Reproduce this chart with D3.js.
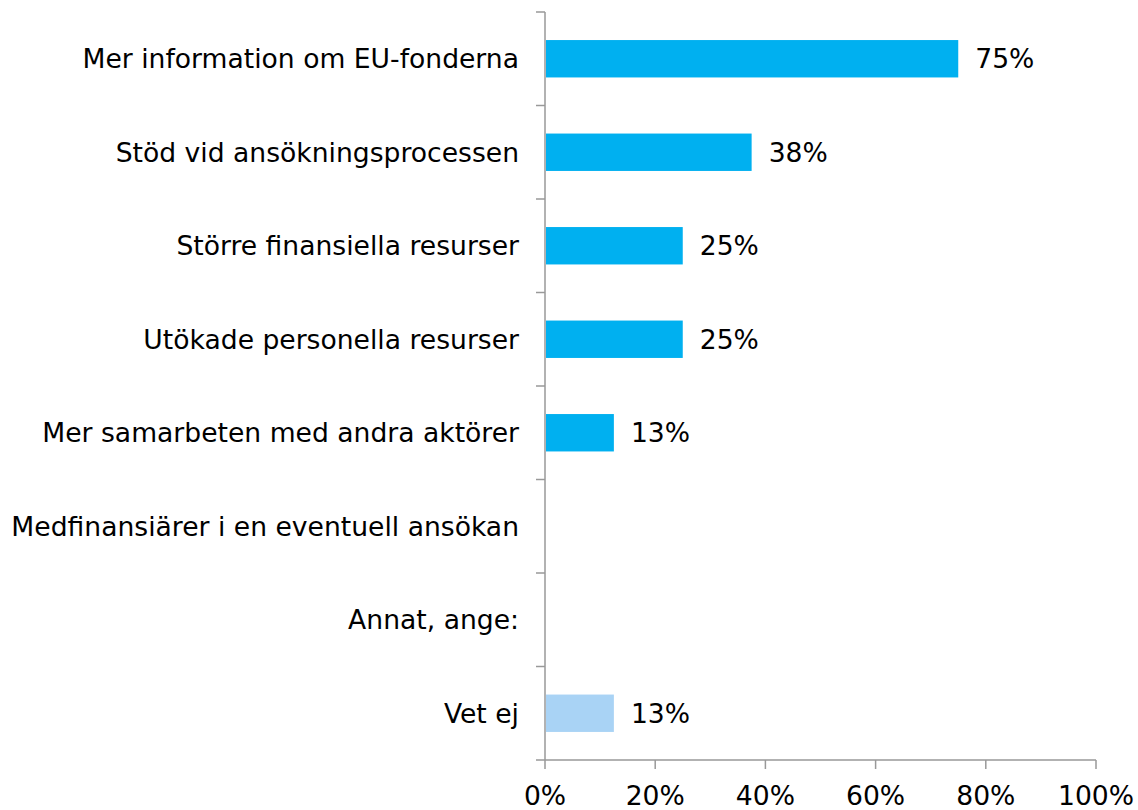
<!DOCTYPE html>
<html>
<head>
<meta charset="utf-8">
<script src="https://cdn.jsdelivr.net/npm/d3@7"></script>
<style>
    body { margin: 0; background: #fff; }
    text { font-family: Verdana, "DejaVu Sans", sans-serif; fill: #000; }
</style>
</head>
<body>
<svg id="chart" width="1138" height="810"></svg>
<script>
const categories = [
    'Mer information om EU-fonderna',
    'Stöd vid ansökningsprocessen',
    'Större finansiella resurser',
    'Utökade personella resurser',
    'Mer samarbeten med andra aktörer',
    'Medfinansiärer i en eventuell ansökan',
    'Annat, ange:',
    'Vet ej',
];
// share of respondents (n = 8), labels are rounded
const values = [75, 37.5, 25, 25, 12.5, null, null, 12.5];
const barColors = ['#00b0f0', '#00b0f0', '#00b0f0', '#00b0f0', '#00b0f0', '#00b0f0', '#00b0f0', '#a9d3f5'];
const xTicks = [0, 20, 40, 60, 80, 100];

const margin = { top: 12, right: 42, bottom: 50, left: 545 };
const width = 1138, height = 810;
const fontSize = 26.6;

const svg = d3.select('#chart');
const g = svg.append('g');

const x = d3.scaleLinear().domain([0, 100]).range([margin.left, width - margin.right]);
const y = d3.scaleBand().domain(categories).range([margin.top, height - margin.bottom]).paddingInner(0.6).paddingOuter(0.3);

const axisColor = '#999';
const yTop = margin.top, yBottom = height - margin.bottom;

// y axis line and ticks at band boundaries
g.append('line')
    .attr('x1', x(0)).attr('x2', x(0))
    .attr('y1', yTop).attr('y2', yBottom)
    .attr('stroke', axisColor).attr('stroke-width', 1.5);
const step = (yBottom - yTop) / categories.length;
d3.range(categories.length + 1).forEach((i) => {
    g.append('line')
        .attr('x1', x(0) - 9).attr('x2', x(0))
        .attr('y1', yTop + i * step).attr('y2', yTop + i * step)
        .attr('stroke', axisColor).attr('stroke-width', 1.5);
});

// x axis
g.append('line')
    .attr('x1', x(0)).attr('x2', x(100))
    .attr('y1', yBottom).attr('y2', yBottom)
    .attr('stroke', axisColor).attr('stroke-width', 1.5);
xTicks.forEach((t) => {
    g.append('line')
        .attr('x1', x(t)).attr('x2', x(t))
        .attr('y1', yBottom).attr('y2', yBottom + 9)
        .attr('stroke', axisColor).attr('stroke-width', 1.5);
    g.append('text')
        .attr('x', x(t)).attr('y', yBottom + 45)
        .attr('text-anchor', 'middle')
        .attr('font-size', fontSize)
        .text(t + '%');
});

// category labels
categories.forEach((c) => {
    g.append('text')
        .attr('x', x(0) - 26)
        .attr('y', y(c) + y.bandwidth() / 2)
        .attr('dy', '0.35em')
        .attr('text-anchor', 'end')
        .attr('font-size', fontSize)
        .text(c);
});

// bars
const data = categories.map((c, i) => ({ c: c, v: values[i], color: barColors[i] })).filter((d) => d.v !== null);
g.selectAll('rect.bar').data(data).enter().append('rect')
    .attr('class', 'bar')
    .attr('x', x(0) + 1)
    .attr('y', (d) => y(d.c))
    .attr('width', (d) => x(d.v) - x(0) - 1)
    .attr('height', y.bandwidth())
    .attr('fill', (d) => d.color);

g.selectAll('text.val').data(data).enter().append('text')
    .attr('class', 'val')
    .attr('x', (d) => x(d.v) + 17)
    .attr('y', (d) => y(d.c) + y.bandwidth() / 2)
    .attr('dy', '0.35em')
    .attr('font-size', fontSize)
    .text((d) => Math.round(d.v) + '%');
</script>
</body>
</html>
